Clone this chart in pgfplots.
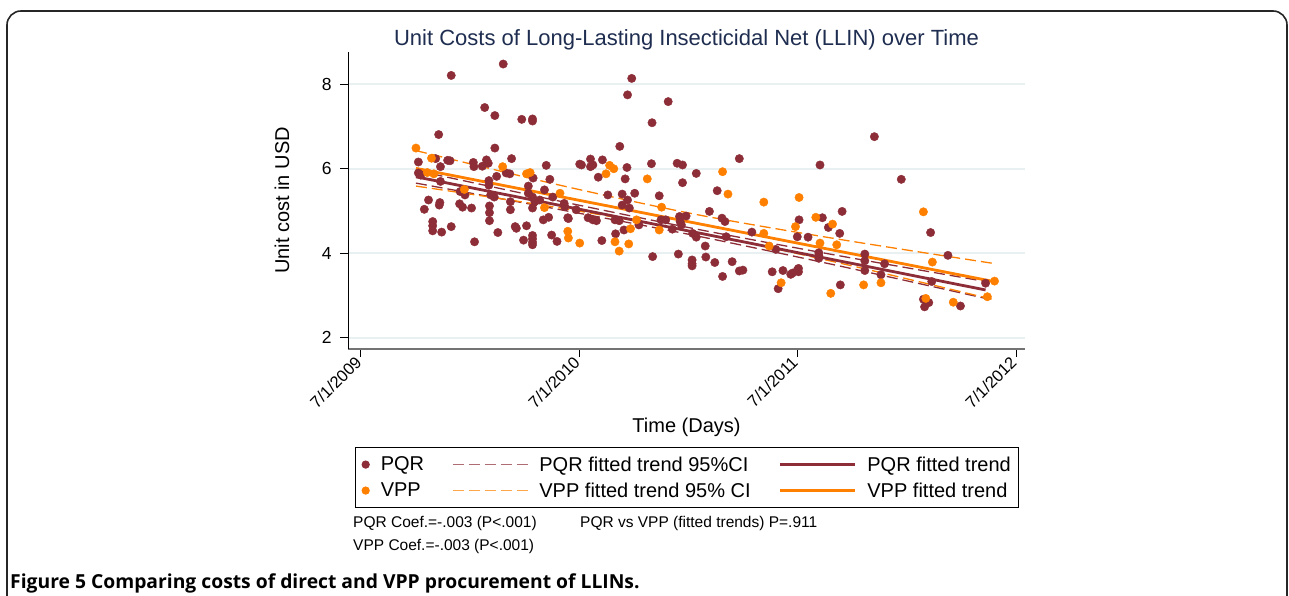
\documentclass[border=0pt]{standalone}
\usepackage{fontspec}
\setmainfont{Liberation Sans}
\newfontfamily\capfont{Open Sans}
\usepackage{pgfplots}
\pgfplotsset{compat=1.18}
\definecolor{pqr}{RGB}{140,45,55}
\definecolor{vpp}{RGB}{255,128,0}
\definecolor{gridc}{RGB}{232,240,242}
\definecolor{titlec}{RGB}{30,45,80}

\pgfplotstableread{
day val
151 8.21
238 8.48
207 7.45
224 7.26
269 7.17
287 7.18
287 7.13
130 6.81
224 6.49
125 6.24
149 6.19
145 6.20
188 6.15
210 6.21
213 6.13
252 6.24
96 6.16
133 6.05
189 6.05
203 6.06
310 6.08
366 6.11
96 5.90
100 5.85
133 5.70
214 5.72
214 5.61
227 5.82
243 5.90
249 5.88
288 5.78
280 5.59
316 5.75
307 5.50
113 5.26
106 5.04
131 5.14
132 5.20
165 5.17
170 5.09
185 5.07
215 5.12
215 4.96
215 4.77
250 5.22
250 5.03
120 4.75
120 4.65
120 4.53
135 4.50
151 4.63
190 4.27
229 4.49
258 4.63
260 4.59
277 4.65
272 4.31
287 4.42
287 4.34
287 4.26
287 4.20
305 4.79
314 4.85
319 4.43
328 4.28
347 4.82
280 5.42
287 5.33
291 5.22
299 5.26
287 5.07
321 5.33
340 5.18
341 5.10
360 5.03
166 5.46
174 5.38
217 5.38
223 5.33
453 8.14
446 7.75
514 7.59
487 7.09
433 6.53
633 6.24
369 6.09
384 6.23
384 6.05
388 6.09
404 6.21
445 6.03
486 6.12
529 6.13
538 6.09
397 5.80
442 5.76
561 5.89
538 5.67
596 5.48
413 5.38
437 5.40
458 5.42
499 5.36
346 4.84
380 4.84
388 4.79
394 4.77
403 4.30
426 4.46
425 4.79
432 4.77
446 5.26
449 5.07
437 5.14
440 4.55
465 4.67
488 3.92
502 4.79
510 4.79
521 4.57
531 3.98
533 4.87
534 4.75
536 4.67
544 4.88
554 3.84
554 3.75
554 3.70
555 4.47
561 4.38
576 4.17
577 3.91
583 4.99
592 3.78
604 4.83
609 4.75
611 4.39
605 3.45
621 3.80
633 3.58
639 3.60
654 4.50
688 3.56
706 3.59
694 4.09
698 3.16
719 3.50
722 3.53
730 4.39
733 4.79
730 3.60
859 6.76
768 6.09
904 5.75
805 4.99
772 4.84
782 4.61
801 4.47
953 4.49
748 4.38
766 4.01
766 3.94
766 3.88
843 3.98
843 3.82
843 3.59
876 3.75
870 3.49
982 3.95
955 3.33
732 3.64
732 3.56
802 3.25
1045 3.29
941 2.91
943 2.73
950 2.83
1003 2.75
}\pqrdata

\pgfplotstableread{
day val
92 6.49
118 6.25
237 6.05
111 5.91
122 5.88
277 5.88
283 5.91
333 5.42
173 5.51
346 4.52
347 4.36
366 4.24
307 5.08
416 6.08
423 6.00
410 5.88
479 5.76
605 5.93
614 5.40
425 4.27
432 4.05
448 4.22
451 4.58
461 4.79
503 5.09
499 4.55
674 5.21
674 4.47
683 4.17
703 3.30
727 4.63
733 5.32
941 4.98
761 4.85
789 4.69
768 4.24
796 4.20
956 3.79
841 3.25
870 3.30
786 3.05
1060 3.34
1048 2.97
945 2.93
991 2.84
}\vppdata

\begin{document}
\begin{tikzpicture}
\path[use as bounding box] (0bp,0bp) rectangle (1289bp,596bp);
\draw[line width=1.6bp, color=black!85, rounded corners=14bp] (7bp,-10bp) -- (7bp,585bp) -- (1287bp,585bp) -- (1287bp,-10bp);
\begin{axis}[
  at={(348bp,247bp)}, anchor=south west,
  scale only axis, width=677bp, height=297bp,
  xmin=-21.7, xmax=1111, ymin=1.732, ymax=8.765,
  axis x line*=bottom, axis y line*=left,
  axis line style={-},
  x axis line style={draw=black!55, line width=1.8bp},
  y axis line style={draw=black, line width=1bp},
  xtick={0,365,730,1096},
  xticklabels={7/1/2009,7/1/2010,7/1/2011,7/1/2012},
  ytick={2,4,6,8},
  tick align=outside, major tick length=8bp,
  tick style={black, line width=1bp},
  ymajorgrids, grid style={color=gridc, line width=1.8bp},
  /pgf/number format/assume math mode=true,
  yticklabel style={font=\fontsize{17.5bp}{20bp}\selectfont, xshift=-5bp},
  xticklabel style={font=\fontsize{16.5bp}{19bp}\selectfont, rotate=45, anchor=east},
  title={Unit Costs of Long-Lasting Insecticidal Net (LLIN) over Time},
  title style={at={(axis description cs:0.5,1.022)}, anchor=center, yshift=0pt, font=\fontsize{22bp}{26bp}\selectfont, color=titlec},
  xlabel={Time (Days)},
  xlabel style={at={(axis description cs:0.5,-0.263)}, anchor=center, font=\fontsize{20bp}{24bp}\selectfont},
  ylabel={Unit cost in USD},
  ylabel style={at={(axis description cs:-0.0975,0.5)}, anchor=center, font=\fontsize{20bp}{24bp}\selectfont},
  legend columns=3,
  legend style={at={(axis description cs:0.0103,-0.33)}, anchor=north west,
    draw=black, line width=1.2bp, font=\fontsize{20bp}{24bp}\selectfont,
    cells={anchor=west}, inner xsep=6bp, inner ysep=7bp, row sep=6bp,
    /tikz/every odd column/.append style={column sep=9bp},
    /tikz/every even column/.append style={column sep=26bp}},
  legend entries={PQR, PQR fitted trend 95\%CI, PQR fitted trend, VPP, VPP fitted trend 95\% CI, VPP fitted trend},
]
\addlegendimage{legend image code/.code={\fill[pqr] (0bp,0bp) circle (3.5bp);}}
\addlegendimage{legend image code/.code={\draw[pqr!70, line width=1.3bp, dash pattern=on 11bp off 5bp] (0bp,0bp) -- (75bp,0bp);}}
\addlegendimage{legend image code/.code={\draw[pqr, line width=2.8bp] (0bp,0bp) -- (75bp,0bp);}}
\addlegendimage{legend image code/.code={\fill[vpp] (0bp,0bp) circle (3.5bp);}}
\addlegendimage{legend image code/.code={\draw[vpp!70, line width=1.3bp, dash pattern=on 11bp off 5bp] (0bp,0bp) -- (75bp,0bp);}}
\addlegendimage{legend image code/.code={\draw[vpp, line width=2.8bp] (0bp,0bp) -- (75bp,0bp);}}

\addplot[forget plot, only marks, mark=*, mark size=4.2bp, color=pqr] table[x=day,y=val] {\pqrdata};
\addplot[forget plot, only marks, mark=*, mark size=4.2bp, color=vpp] table[x=day,y=val] {\vppdata};

\addplot[forget plot, smooth, color=pqr, line width=1.3bp, dash pattern=on 11bp off 5bp] coordinates {(92,5.96)(330,5.24)(560,4.575)(800,3.94)(1045,3.33)};
\addplot[forget plot, smooth, color=pqr, line width=1.3bp, dash pattern=on 11bp off 5bp] coordinates {(92,5.66)(330,5.04)(560,4.415)(800,3.70)(1045,2.93)};
\addplot[forget plot, smooth, color=vpp, line width=1.3bp, dash pattern=on 11bp off 5bp] coordinates {(92,6.43)(330,5.62)(560,4.92)(800,4.33)(1062,3.75)};
\addplot[forget plot, smooth, color=vpp, line width=1.3bp, dash pattern=on 11bp off 5bp] coordinates {(92,5.59)(330,5.08)(560,4.50)(800,3.77)(1062,2.89)};
\addplot[forget plot, color=pqr, line width=2.8bp] coordinates {(92,5.81)(1045,3.13)};
\addplot[forget plot, color=vpp, line width=2.8bp] coordinates {(92,6.01)(1062,3.32)};
\end{axis}
\begin{scope}[x=1bp,y=1bp]
\node[anchor=west, inner sep=0pt, font=\fontsize{15.5bp}{18bp}\selectfont] at (353,73) {PQR Coef.=-.003 (P<.001)};
\node[anchor=west, inner sep=0pt, font=\fontsize{15.5bp}{18bp}\selectfont] at (353,50) {VPP Coef.=-.003 (P<.001)};
\node[anchor=west, inner sep=0pt, font=\fontsize{15.5bp}{18bp}\selectfont] at (580,73) {PQR vs VPP (fitted trends) P=.911};
\node[anchor=west, inner sep=0pt, font=\capfont\bfseries\fontsize{19.3bp}{23bp}\selectfont] at (10,13) {Figure 5 Comparing costs of direct and VPP procurement of LLINs.};
\end{scope}
\end{tikzpicture}
\end{document}
